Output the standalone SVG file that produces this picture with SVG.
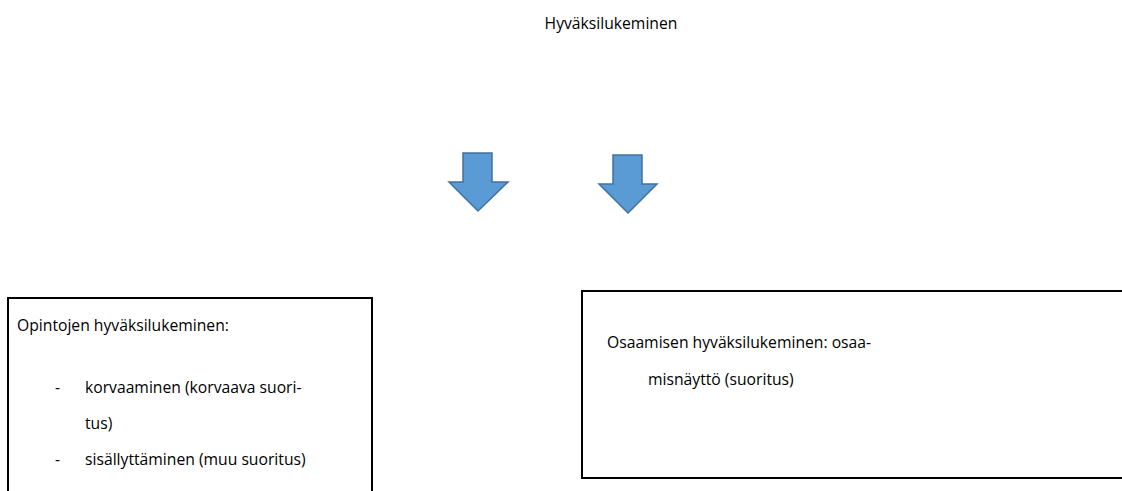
<svg xmlns="http://www.w3.org/2000/svg" width="1122" height="491" viewBox="0 0 1122 491">
  <style>
    text { font-family: "Open Sans", "Noto Sans", "DejaVu Sans", sans-serif; font-size: 15.7px; fill: #000000; }
    .box { fill: #ffffff; stroke: #000000; stroke-width: 2; }
    .blockarrow { fill: #5B9BD5; stroke: #41719C; stroke-width: 1.5; stroke-linejoin: miter; }
  </style>
  <rect x="0" y="0" width="1122" height="491" fill="#ffffff"/>

  <g id="title">
    <text x="611" y="29" text-anchor="middle">Hyväksilukeminen</text>
  </g>

  <g id="connectors">
    <path class="blockarrow" d="M463,153 L492,153 L492,182 L508,182 L478,211 L449,182 L463,182 Z"/>
    <path class="blockarrow" d="M613,155 L642,155 L642,184 L657,184 L628,213 L599,184 L613,184 Z"/>
  </g>

  <g id="node-opintojen">
    <rect class="box" x="8" y="298" width="364" height="210"/>
    <text x="17" y="331">Opintojen hyväksilukeminen:</text>
    <text x="55" y="393">-</text>
    <text x="85" y="393">korvaaminen (korvaava suori-</text>
    <text x="85" y="429">tus)</text>
    <text x="55" y="465">-</text>
    <text x="85" y="465">sisällyttäminen (muu suoritus)</text>
  </g>

  <g id="node-osaamisen">
    <rect class="box" x="582" y="291" width="560" height="187"/>
    <text x="607" y="348">Osaamisen hyväksilukeminen: osaa-</text>
    <text x="648" y="385">misnäyttö (suoritus)</text>
  </g>
</svg>
